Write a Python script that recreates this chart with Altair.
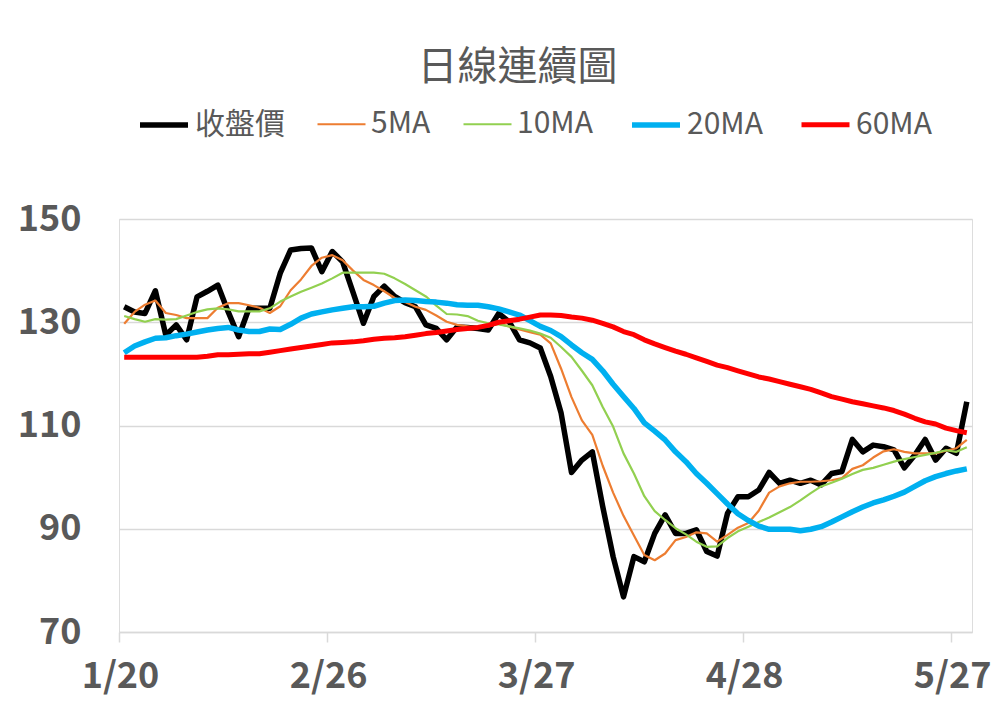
import altair as alt
import pandas as pd

# ---- data ----
tick_labels = ["1/20", "2/26", "3/27", "4/28", "5/27"]
tick_index = [0, 20, 40, 60, 80]
series_names = ["收盤價", "5MA", "10MA", "20MA", "60MA"]

close = [133.0, 132.0, 131.7, 136.1, 127.5, 129.5, 126.6, 134.9, 136.0, 137.2,
         132.0, 127.2, 132.7, 132.7, 132.7, 139.5, 144.0, 144.3, 144.4, 139.8,
         143.7, 141.7, 135.8, 129.8, 135.0, 137.0, 135.0, 133.8, 133.0, 129.5,
         128.8, 126.6, 129.1, 129.0, 128.8, 128.5, 131.7, 130.1, 126.6, 126.0,
         125.0, 119.5, 112.4, 100.9, 103.3, 104.9, 94.3, 84.6, 76.8, 84.6,
         83.6, 89.1, 92.7, 89.1, 89.1, 89.8, 85.6, 84.7, 93.0, 96.2,
         96.2, 97.5, 100.9, 98.8, 99.4, 98.8, 99.4, 98.5, 100.7, 101.1,
         107.3, 104.9, 106.2, 105.9, 105.3, 101.8, 104.3, 107.3, 103.3, 105.6,
         104.6, 114.6]

ma5 = [129.7, 132.0, 133.4, 134.2, 131.8, 131.4, 130.8, 130.8, 130.8, 132.8,
       133.7, 133.7, 133.3, 132.8, 131.8, 133.1, 136.2, 138.3, 140.9, 142.5,
       143.0, 142.0, 140.0, 138.2, 137.2, 136.0, 134.7, 133.9, 133.0, 132.4,
       131.3, 130.1, 129.5, 129.2, 128.9, 129.2, 129.7, 129.2, 128.6, 128.1,
       127.6, 125.9, 121.0, 115.5, 111.0, 108.2, 102.2, 97.0, 92.5, 88.7,
       84.9, 83.9, 85.2, 87.8, 88.4, 89.3, 89.1, 87.5, 88.8, 90.2,
       91.1, 93.5, 97.0, 98.2, 98.8, 99.1, 99.1, 99.2, 99.4, 99.8,
       101.6, 102.3, 103.8, 105.0, 105.4, 104.9, 104.6, 104.6, 104.6, 105.1,
       105.6, 107.2]

ma10 = [131.2, 130.6, 130.1, 130.6, 130.5, 130.6, 131.3, 132.0, 132.5, 132.7,
        132.5, 132.1, 132.1, 132.1, 132.7, 134.0, 135.0, 135.9, 136.7, 137.5,
        138.5, 139.6, 139.6, 139.6, 139.6, 139.4, 138.5, 137.4, 136.2, 135.0,
        133.2, 131.6, 131.5, 131.2, 130.3, 129.8, 129.6, 129.2, 128.8, 128.4,
        127.8, 127.0, 125.2, 123.3, 120.6, 117.8, 113.6, 109.8, 104.6, 100.7,
        96.3, 93.4, 91.7, 90.1, 88.9, 87.5, 86.5, 86.6, 88.2, 89.5,
        90.4, 91.3, 92.2, 93.2, 94.2, 95.5, 96.9, 98.2, 98.9, 99.7,
        100.6, 101.4, 101.8, 102.4, 103.0, 103.5, 103.9, 104.3, 104.7, 105.2,
        104.9, 105.8]

ma20 = [124.1, 125.4, 126.2, 126.9, 127.0, 127.4, 127.7, 128.1, 128.5, 128.8,
        129.0, 128.5, 128.2, 128.2, 128.7, 128.6, 129.6, 130.8, 131.6, 132.0,
        132.4, 132.7, 133.0, 133.0, 133.1, 133.7, 134.2, 134.3, 134.2, 134.0,
        133.9, 133.7, 133.4, 133.3, 133.3, 133.0, 132.6, 132.0, 131.4, 130.3,
        129.2, 128.4, 127.2, 125.6, 124.1, 122.8, 120.6, 118.0, 115.6, 113.3,
        110.5, 108.9, 107.2, 104.9, 103.0, 100.7, 98.8, 96.8, 94.8, 92.9,
        91.6, 90.5, 89.9, 89.9, 89.9, 89.6, 89.9, 90.4, 91.3, 92.3,
        93.3, 94.2, 95.0, 95.6, 96.3, 97.1, 98.2, 99.3, 100.1, 100.7,
        101.2, 101.6]

ma60 = [123.2, 123.2, 123.2, 123.2, 123.2, 123.2, 123.2, 123.2, 123.4, 123.7,
        123.7, 123.8, 123.9, 123.9, 124.2, 124.5, 124.8, 125.1, 125.4, 125.7,
        126.0, 126.1, 126.2, 126.4, 126.7, 126.9, 127.0, 127.2, 127.5, 127.8,
        128.0, 128.3, 128.6, 128.8, 129.0, 129.4, 130.0, 130.3, 130.6, 131.0,
        131.4, 131.4, 131.3, 131.0, 130.8, 130.4, 129.8, 129.1, 128.2, 127.6,
        126.6, 125.8, 125.1, 124.4, 123.8, 123.1, 122.4, 121.7, 121.2, 120.6,
        120.0, 119.4, 119.0, 118.5, 118.0, 117.5, 117.0, 116.3, 115.6, 115.1,
        114.6, 114.2, 113.8, 113.4, 112.9, 112.2, 111.4, 110.7, 110.3, 109.5,
        109.0, 108.6]

y_ticks = [70, 90, 110, 130, 150]

# ---- styling ----
colors = ["#000000", "#ED7D31", "#92D050", "#00B0F0", "#FF0000"]
widths = [5.5, 2.2, 2.2, 5.5, 5.0]
FONT = "Noto Sans CJK TC"
GRAY = "#595959"

rows = []
for name, vals in zip(series_names, [close, ma5, ma10, ma20, ma60]):
    for i, v in enumerate(vals):
        rows.append({"idx": i, "val": v, "series": name})
df = pd.DataFrame(rows)

n = len(close)
label_expr = ("[" + ",".join("'%s'" % t for t in tick_labels) + "]"
              "[round((datum.value + 0.5) / 20)]")

legend_kw = dict(
    title=None, orient="none", legendX=18, legendY=-121,
    direction="horizontal", symbolType="stroke", symbolSize=2304,
    labelFont=FONT, labelFontSize=30, labelColor=GRAY, labelOffset=4,
    columnPadding=28, labelLimit=300,
)

x_enc = alt.X(
    "idx:Q",
    scale=alt.Scale(domain=[-0.5, n - 0.5], nice=False, zero=False),
    axis=alt.Axis(
        values=[t - 0.5 for t in tick_index], labelExpr=label_expr,
        labelOffset=1, labelFlush=False, grid=False,
        domainColor="#D9D9D9", domainWidth=1.5,
        tickColor="#D9D9D9", tickWidth=1.5, tickSize=10,
        labelFont=FONT, labelFontSize=36, labelFontWeight="bold",
        labelColor=GRAY, labelPadding=17, title=None,
    ),
)
y_enc = alt.Y(
    "val:Q",
    scale=alt.Scale(domain=[70, 150], nice=False, zero=False),
    axis=alt.Axis(
        values=y_ticks, grid=True, gridColor="#D9D9D9", gridWidth=1.5,
        domain=False, ticks=False, labelFlush=False,
        labelFont=FONT, labelFontSize=36, labelFontWeight="bold",
        labelColor=GRAY, labelPadding=38, title=None,
    ),
)
color_enc = alt.Color(
    "series:N", scale=alt.Scale(domain=series_names, range=colors),
    legend=alt.Legend(**legend_kw),
)
sw_enc = alt.StrokeWidth(
    "series:N",
    scale=alt.Scale(type="ordinal", domain=series_names, range=widths),
    legend=alt.Legend(**legend_kw),
)

base = alt.Chart(df).mark_line(strokeJoin="round", strokeCap="butt").encode(
    x=x_enc, y=y_enc, color=color_enc, strokeWidth=sw_enc,
)

layers = [base.transform_filter(alt.datum.series == s) for s in series_names]

chart = alt.layer(*layers).properties(
    width=853, height=413,
    title=alt.Title(
        "日線連續圖", font=FONT, fontSize=40, fontWeight="normal",
        color=GRAY, anchor="middle", frame="group", dx=-28, offset=10,
    ),
    autosize=alt.AutoSizeParams(type="none"),
    padding={"left": 111, "top": 211, "right": 20, "bottom": 64},
).configure_view(stroke=None).configure(background="white")

chart.save("out.html", embed_options={"renderer": "svg", "actions": False})
